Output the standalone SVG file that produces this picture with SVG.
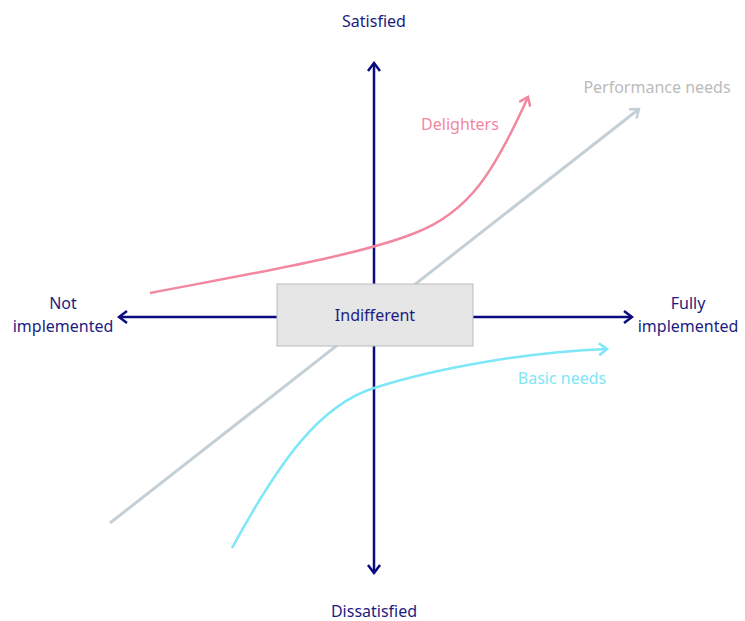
<svg xmlns="http://www.w3.org/2000/svg" width="745" height="621" viewBox="0 0 745 621">
<style>
.lbl{font-family:"Noto Sans","Open Sans",sans-serif;font-size:16px;text-anchor:middle}
.axis{stroke:#0a0a80;stroke-width:2.5;fill:none}
.nav{fill:#1c1c80}
</style>
<defs>
<marker id="ah-navy" markerWidth="12" markerHeight="14" refX="10" refY="7" orient="auto" markerUnits="userSpaceOnUse"><path d="M2,1 L10,7 L2,13" fill="none" stroke="#0a0a80" stroke-width="2.5"/></marker>
<marker id="ah-pink" markerWidth="12" markerHeight="14" refX="10" refY="7" orient="auto" markerUnits="userSpaceOnUse"><path d="M2,1 L10,7 L2,13" fill="none" stroke="#f2889f" stroke-width="2.5"/></marker>
<marker id="ah-gray" markerWidth="12" markerHeight="14" refX="10" refY="7" orient="auto" markerUnits="userSpaceOnUse"><path d="M2,1 L10,7 L2,13" fill="none" stroke="#c4d0d6" stroke-width="2.5"/></marker>
<marker id="ah-cyan" markerWidth="12" markerHeight="14" refX="10" refY="7" orient="auto" markerUnits="userSpaceOnUse"><path d="M2,1 L10,7 L2,13" fill="none" stroke="#7de6f7" stroke-width="2.5"/></marker>
</defs>
<g id="connectors">
<line class="axis" x1="374" y1="317" x2="374" y2="63" marker-end="url(#ah-navy)"/>
<line class="axis" x1="374" y1="317" x2="374" y2="573" marker-end="url(#ah-navy)"/>
<line class="axis" x1="374" y1="317" x2="119" y2="317" marker-end="url(#ah-navy)"/>
<line class="axis" x1="374" y1="317" x2="632" y2="317" marker-end="url(#ah-navy)"/>
<line x1="110" y1="523" x2="639" y2="109" stroke="#c4d0d6" stroke-width="3" marker-end="url(#ah-gray)"/>
<path d="M150,293 C260,272 360,255 415,233 C470,212 495,170 528,97" fill="none" stroke="#f2889f" stroke-width="2.5" marker-end="url(#ah-pink)"/>
<path d="M232,548 C280,460 320,405 374,388 C440,367 530,352 607,349" fill="none" stroke="#7de6f7" stroke-width="2.5" marker-end="url(#ah-cyan)"/>
</g>
<g id="indifferent">
<rect x="277" y="284" width="196" height="62" fill="#e6e6e6" stroke="#bbbbbb" stroke-width="1"/>
<text class="lbl nav" x="375" y="321" font-size="17">Indifferent</text>
</g>
<g id="satisfied"><text class="lbl nav" x="374" y="27">Satisfied</text></g>
<g id="dissatisfied"><text class="lbl nav" x="374" y="617">Dissatisfied</text></g>
<g id="not-implemented"><text class="lbl nav" x="63" y="309">Not</text><text class="lbl nav" x="63" y="332">implemented</text></g>
<g id="fully-implemented"><text class="lbl nav" x="688" y="309">Fully</text><text class="lbl nav" x="688" y="332">implemented</text></g>
<g id="delighters"><text class="lbl" x="460" y="130" fill="#f2889f">Delighters</text></g>
<g id="performance"><text class="lbl" x="657" y="93" fill="#bbbbbb">Performance needs</text></g>
<g id="basic"><text class="lbl" x="562" y="384" fill="#7de6f7">Basic needs</text></g>
</svg>
